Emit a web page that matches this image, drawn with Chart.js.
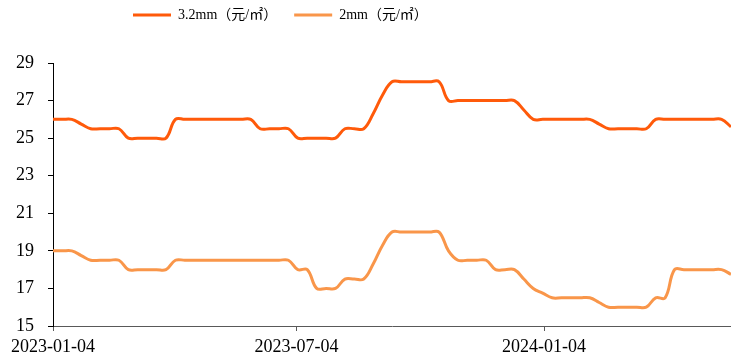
<!DOCTYPE html>
<html>
<head>
<meta charset="utf-8">
<script src="https://cdn.jsdelivr.net/npm/chart.js@4.4.1/dist/chart.umd.min.js"></script>
<style>
  html, body { margin: 0; padding: 0; background: #fff; }
  #contenedor { width: 731px; height: 361px; }
</style>
</head>
<body>
<div id="contenedor"><canvas id="graficaPrecios"></canvas></div>
<script>
// precios semanales desde el 2023-01-04
const fechaInicio = '2023-01-04';
const totalSemanas = 73;

const nombreSerie32 = '3.2mm（元/㎡）';
const nombreSerie2 = '2mm（元/㎡）';

const precio32 = [
    26, 26, 26, 25.75, 25.5, 25.5, 25.5, 25.5, 25, 25,
    25, 25, 25, 26, 26, 26, 26, 26, 26, 26,
    26, 26, 25.5, 25.5, 25.5, 25.5, 25, 25, 25, 25,
    25, 25.5, 25.5, 25.5, 26.3, 27.3, 28, 28, 28, 28,
    28, 28, 27, 27, 27, 27, 27, 27, 27, 27,
    26.5, 26, 26, 26, 26, 26, 26, 26, 25.75, 25.5,
    25.5, 25.5, 25.5, 25.5, 26, 26, 26, 26, 26, 26,
    26, 26, 25.6
];

const precio2 = [
    19, 19, 19, 18.75, 18.5, 18.5, 18.5, 18.5, 18, 18,
    18, 18, 18, 18.5, 18.5, 18.5, 18.5, 18.5, 18.5, 18.5,
    18.5, 18.5, 18.5, 18.5, 18.5, 18.5, 18, 18, 17, 17,
    17, 17.5, 17.5, 17.5, 18.3, 19.3, 20, 20, 20, 20,
    20, 20, 19, 18.5, 18.5, 18.5, 18.5, 18, 18, 18,
    17.5, 17, 16.75, 16.5, 16.5, 16.5, 16.5, 16.5, 16.25, 16,
    16, 16, 16, 16, 16.5, 16.5, 18, 18, 18, 18,
    18, 18, 17.75
];

const marcasX = ['2023-01-04', '2023-07-04', '2024-01-04'];
const marcasY = [15, 17, 19, 21, 23, 25, 27, 29];

const DIA = 24 * 60 * 60 * 1000;
const origen = Date.parse(fechaInicio);
function diasDesdeInicio(fecha) {
    return Math.round((Date.parse(fecha) - origen) / DIA);
}

const fechas = [];
for (let i = 0; i < totalSemanas; i++) {
    fechas.push(new Date(origen + i * 7 * DIA).toISOString().slice(0, 10));
}

function puntos(valores) {
    return valores.map((v, i) => ({ x: diasDesdeInicio(fechas[i]), y: v }));
}

const fuenteEjes = { family: "'Liberation Serif', 'Times New Roman', serif", size: 18 };
const fuenteLeyenda = { family: "'Liberation Serif', 'Noto Sans CJK SC', serif", size: 14 };
const sepLeyenda = 17;

// coloca la leyenda arriba a la izquierda sin tocar el área del gráfico
const ajusteLeyenda = {
    id: 'ajusteLeyenda',
    afterLayout(chart) {
        const ley = chart.legend;
        const dx = 133 - (ley.left + sepLeyenda);
        const dy = (8 - sepLeyenda) - ley.top;
        ley.left += dx;
        ley.right += dx;
        ley.top += dy;
        ley.bottom += dy;
    }
};

document.addEventListener('DOMContentLoaded', function () {
    const ctx = document.getElementById('graficaPrecios').getContext('2d');
    new Chart(ctx, {
        type: 'line',
        data: {
            datasets: [{
                label: nombreSerie32,
                data: puntos(precio32),
                borderColor: '#FF5A0A',
                backgroundColor: '#FF5A0A',
                borderWidth: 3,
                pointRadius: 0,
                tension: 0.4
            }, {
                label: nombreSerie2,
                data: puntos(precio2),
                borderColor: '#F9964A',
                backgroundColor: '#F9964A',
                borderWidth: 3,
                pointRadius: 0,
                tension: 0.4
            }]
        },
        options: {
            responsive: true,
            maintainAspectRatio: false,
            animation: false,
            layout: { padding: { top: 39 - sepLeyenda, left: 0, right: 0, bottom: 0 } },
            plugins: {
                tooltip: { enabled: false },
                legend: {
                    position: 'top',
                    align: 'start',
                    labels: {
                        usePointStyle: true,
                        pointStyle: 'line',
                        pointStyleWidth: 38,
                        padding: sepLeyenda,
                        color: '#000',
                        font: fuenteLeyenda
                    }
                }
            },
            scales: {
                x: {
                    type: 'linear',
                    min: 0,
                    max: (totalSemanas - 1) * 7,
                    afterBuildTicks: eje => {
                        eje.ticks = marcasX.map(f => ({ value: diasDesdeInicio(f) }));
                    },
                    afterFit: eje => { eje.height = 35; },
                    ticks: {
                        autoSkip: false,
                        maxRotation: 0,
                        padding: 5,
                        color: '#000',
                        font: fuenteEjes,
                        callback: (valor, indice) => marcasX[indice]
                    },
                    grid: {
                        drawOnChartArea: false,
                        drawTicks: true,
                        tickLength: 5,
                        color: '#595959'
                    },
                    border: { display: true, color: '#595959', width: 1 }
                },
                y: {
                    min: marcasY[0],
                    max: marcasY[marcasY.length - 1],
                    afterBuildTicks: eje => {
                        eje.ticks = marcasY.map(v => ({ value: v }));
                    },
                    afterFit: eje => { eje.width = 53; },
                    ticks: {
                        padding: 14,
                        color: '#000',
                        font: fuenteEjes
                    },
                    grid: {
                        drawOnChartArea: false,
                        drawTicks: true,
                        tickLength: 5,
                        color: '#000'
                    },
                    border: { display: true, color: '#000', width: 1 }
                }
            }
        },
        plugins: [ajusteLeyenda]
    });
});
</script>
</body>
</html>
